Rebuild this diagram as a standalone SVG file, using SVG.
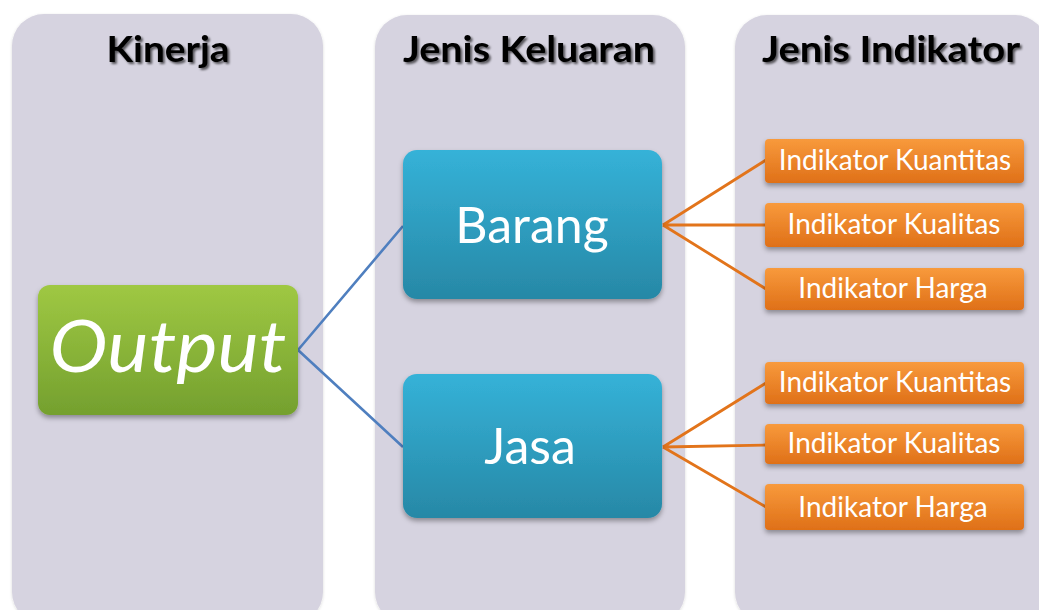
<svg xmlns="http://www.w3.org/2000/svg" width="1039" height="610" viewBox="0 0 1039 610">
  <defs>
    <linearGradient id="gGreen" x1="0" y1="0" x2="0" y2="1">
      <stop offset="0" stop-color="#9fc843"/>
      <stop offset="1" stop-color="#74a02e"/>
    </linearGradient>
    <linearGradient id="gBlue" x1="0" y1="0" x2="0" y2="1">
      <stop offset="0" stop-color="#35b2d8"/>
      <stop offset="1" stop-color="#2788a6"/>
    </linearGradient>
    <linearGradient id="gOrange" x1="0" y1="0" x2="0" y2="1">
      <stop offset="0" stop-color="#f89a3c"/>
      <stop offset="1" stop-color="#df7018"/>
    </linearGradient>
    <filter id="boxShadow" x="-10%" y="-10%" width="120%" height="130%">
      <feDropShadow dx="0" dy="3" stdDeviation="2.5" flood-color="#000" flood-opacity="0.35"/>
    </filter>
    <filter id="textShadow" x="-10%" y="-20%" width="120%" height="150%">
      <feDropShadow dx="2" dy="2" stdDeviation="1.2" flood-color="#000" flood-opacity="0.6"/>
    </filter>
    <filter id="panelEdge" x="-5%" y="-5%" width="110%" height="110%">
      <feDropShadow dx="0" dy="1" stdDeviation="1.5" flood-color="#000" flood-opacity="0.15"/>
    </filter>
  </defs>
  <style>
    .panel { fill: #d6d3e0; filter: url(#panelEdge); }
    .head { font-family: Lato, "Open Sans", sans-serif; font-weight: bold; font-size: 37px; fill: #000; text-anchor: middle; filter: url(#textShadow); }
    .lbl { font-family: Lato, "Open Sans", sans-serif; fill: #fff; text-anchor: middle; }
    .ind { font-size: 28px; }
    .conn-blue { stroke: #4f7fbf; stroke-width: 2.6; fill: none; }
    .conn-orange { stroke: #e2741b; stroke-width: 2.8; fill: none; }
  </style>
  <rect width="1039" height="610" fill="#ffffff"/>

  <!-- column panels -->
  <g id="col-kinerja">
    <rect class="panel" x="12" y="14" width="311" height="610" rx="32"/>
    <text class="head" x="168" y="62" textLength="123" lengthAdjust="spacingAndGlyphs">Kinerja</text>
  </g>
  <g id="col-keluaran">
    <rect class="panel" x="375" y="15" width="310" height="609" rx="32"/>
    <text class="head" x="529" y="62" textLength="252" lengthAdjust="spacingAndGlyphs">Jenis Keluaran</text>
  </g>
  <g id="col-indikator">
    <rect class="panel" x="735" y="15" width="312" height="609" rx="32"/>
    <text class="head" x="891" y="62" textLength="258" lengthAdjust="spacingAndGlyphs">Jenis Indikator</text>
  </g>

  <!-- connectors -->
  <g id="connectors">
    <path class="conn-blue" d="M298 350 L403 226 M298 350 L403 447"/>
    <path class="conn-orange" d="M663 225 L766 160 M663 225 L766 225 M663 225 L766 289"/>
    <path class="conn-orange" d="M663 447 L766 383 M663 447 L766 445 M663 447 L766 507"/>
  </g>

  <!-- nodes -->
  <g id="node-output">
    <rect x="38" y="285" width="260" height="130" rx="12" fill="url(#gGreen)" filter="url(#boxShadow)"/>
    <text class="lbl" x="168" y="372" font-size="72" font-style="italic" textLength="237" lengthAdjust="spacingAndGlyphs">Output</text>
  </g>
  <g id="node-barang">
    <rect x="403" y="150" width="259" height="149" rx="14" fill="url(#gBlue)" filter="url(#boxShadow)"/>
    <text class="lbl" x="532" y="243" font-size="50">Barang</text>
  </g>
  <g id="node-jasa">
    <rect x="403" y="374" width="259" height="144" rx="14" fill="url(#gBlue)" filter="url(#boxShadow)"/>
    <text class="lbl" x="530" y="464" font-size="50">Jasa</text>
  </g>

  <g id="node-b-kuantitas">
    <rect x="765" y="139" width="259" height="44" rx="4" fill="url(#gOrange)" filter="url(#boxShadow)"/>
    <text class="lbl ind" x="895" y="170">Indikator Kuantitas</text>
  </g>
  <g id="node-b-kualitas">
    <rect x="765" y="203" width="259" height="44" rx="4" fill="url(#gOrange)" filter="url(#boxShadow)"/>
    <text class="lbl ind" x="894" y="234">Indikator Kualitas</text>
  </g>
  <g id="node-b-harga">
    <rect x="765" y="268" width="259" height="42" rx="4" fill="url(#gOrange)" filter="url(#boxShadow)"/>
    <text class="lbl ind" x="893" y="298">Indikator Harga</text>
  </g>

  <g id="node-j-kuantitas">
    <rect x="765" y="362" width="259" height="42" rx="4" fill="url(#gOrange)" filter="url(#boxShadow)"/>
    <text class="lbl ind" x="895" y="392">Indikator Kuantitas</text>
  </g>
  <g id="node-j-kualitas">
    <rect x="765" y="424" width="259" height="40" rx="4" fill="url(#gOrange)" filter="url(#boxShadow)"/>
    <text class="lbl ind" x="894" y="453">Indikator Kualitas</text>
  </g>
  <g id="node-j-harga">
    <rect x="765" y="484" width="259" height="46" rx="4" fill="url(#gOrange)" filter="url(#boxShadow)"/>
    <text class="lbl ind" x="893" y="517">Indikator Harga</text>
  </g>
</svg>
